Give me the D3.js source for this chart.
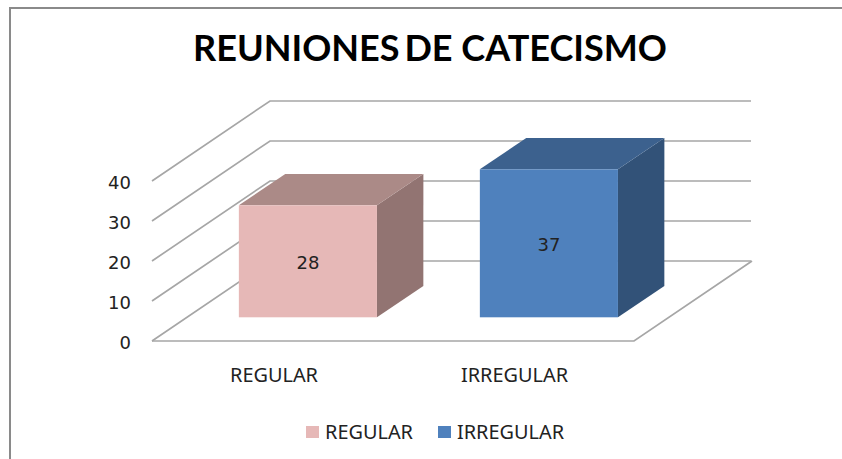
<!DOCTYPE html>
<html><head><meta charset="utf-8">
<script src="https://cdn.jsdelivr.net/npm/d3@7/dist/d3.min.js"></script>
<style>html,body{margin:0;padding:0;background:#fff}svg{display:block}</style>
</head><body><svg id="c" width="842" height="459"></svg>
<script>
const titleWords = ["REUNIONES", "DE CATECISMO"];
const categories = ["REGULAR", "IRREGULAR"];
const values = [28, 37];
const yTicks = [0, 10, 20, 30, 40];
const frontColors = ["#e6b8b7", "#4f81bd"];
const topColors = ["#ab8a87", "#3c618e"];
const sideColors = ["#927472", "#325278"];

const svg = d3.select("#c");
const gridColor = "#a6a6a6";
const labelFont = "Noto Sans, sans-serif";
const numberFont = "DejaVu Sans, sans-serif";
const labelWidth = { REGULAR: 88, IRREGULAR: 107 };
const depth = { x: 118, y: -80 };
const barDepth = { x: 46.4, y: -31.4 };
const barInset = { x: 35.4, y: -23.7 };

const x = d3.scaleBand().domain(categories).range([152, 634]).paddingInner(0.427).paddingOuter(0.2135);
const y = d3.scaleLinear().domain([0, 40]).range([341, 181]);

svg.append("path").attr("d", "M10 459V8H842").attr("fill", "none").attr("stroke", "#8a8a8a").attr("stroke-width", 2);

const title = svg.append("text").attr("x", 193).attr("y", 61)
  .attr("font-family", "Lato, sans-serif").attr("font-weight", 700).attr("font-size", 37)
  .attr("textLength", 474).attr("lengthAdjust", "spacingAndGlyphs").attr("fill", "#000");
title.append("tspan").text(titleWords[0] + " ");
title.append("tspan").attr("dx", -4).text(titleWords[1]);

const grid = svg.append("g").attr("fill", "none").attr("stroke", gridColor).attr("stroke-width", 1.7);
yTicks.forEach(t => {
  const y0 = y(t);
  grid.append("path").attr("d", `M${x.range()[0]} ${y0}L${x.range()[0] + depth.x} ${y0 + depth.y}H751`);
});
grid.append("path").attr("d", `M${x.range()[0]} ${y(0)}H${x.range()[1]}L${x.range()[1] + depth.x} ${y(0) + depth.y}`);

const axis = svg.append("g").attr("transform", "translate(138,1.5)")
  .call(d3.axisLeft(y).tickValues(yTicks).tickSize(0).tickPadding(7));
axis.select(".domain").remove();
axis.selectAll("text").attr("font-family", numberFont).attr("font-size", 18).attr("fill", "#222");

const bars = svg.append("g").selectAll("g").data(categories).join("g");
bars.each(function (c, i) {
  const g = d3.select(this);
  const x0 = x(c) + barInset.x, x1 = x0 + x.bandwidth();
  const yb = y(0) + barInset.y, yt = y(values[i]) + barInset.y;
  g.append("path").attr("fill", sideColors[i])
    .attr("d", `M${x1} ${yb}L${x1 + barDepth.x} ${yb + barDepth.y}V${yt + barDepth.y}L${x1} ${yt}Z`);
  g.append("path").attr("fill", topColors[i])
    .attr("d", `M${x0} ${yt}L${x0 + barDepth.x} ${yt + barDepth.y}H${x1 + barDepth.x}L${x1} ${yt}Z`);
  g.append("rect").attr("fill", frontColors[i]).attr("x", x0).attr("y", yt).attr("width", x.bandwidth()).attr("height", yb - yt);
  g.append("text").attr("x", (x0 + x1) / 2).attr("y", (yt + yb) / 2 + 3).attr("text-anchor", "middle")
    .attr("dominant-baseline", "middle").attr("font-family", numberFont).attr("font-size", 18).attr("fill", "#222")
    .text(values[i]);
});

const labelX = { REGULAR: 230, IRREGULAR: 461 };
svg.append("g").selectAll("text").data(categories).join("text")
  .attr("x", c => labelX[c]).attr("y", 382)
  .attr("textLength", c => labelWidth[c]).attr("lengthAdjust", "spacingAndGlyphs")
  .attr("font-family", labelFont).attr("font-size", 19).attr("fill", "#222").text(c => c);

const legendX = [306, 438];
const legend = svg.append("g").selectAll("g").data(categories).join("g");
legend.append("rect").attr("x", (c, i) => legendX[i]).attr("y", 426).attr("width", 13).attr("height", 12)
  .attr("fill", (c, i) => frontColors[i]);
legend.append("text").attr("x", (c, i) => legendX[i] + 19).attr("y", 439)
  .attr("textLength", c => labelWidth[c]).attr("lengthAdjust", "spacingAndGlyphs")
  .attr("font-family", labelFont).attr("font-size", 19).attr("fill", "#222").text(c => c);
</script></body></html>
